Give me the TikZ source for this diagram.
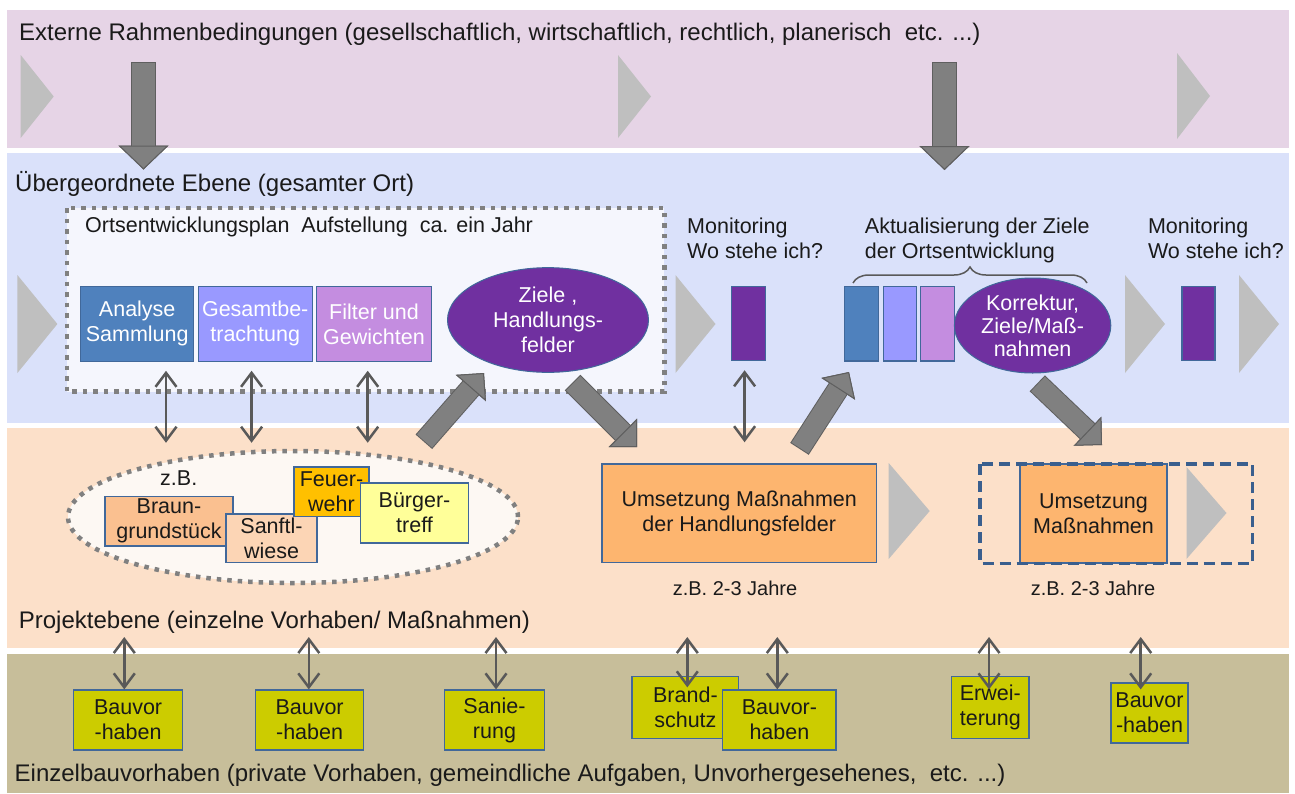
\documentclass[tikz,border=0pt]{standalone}
\usepackage{fontspec}
\setmainfont{Liberation Sans}
\usetikzlibrary{arrows.meta,positioning,calc,shapes.geometric,decorations.pathreplacing}
\definecolor{bandext}{HTML}{E6D4E6}
\definecolor{bandort}{HTML}{DAE1FA}
\definecolor{bandproj}{HTML}{FCE0C9}
\definecolor{bandbau}{HTML}{C7BE9A}
\definecolor{planfill}{HTML}{F5F6FD}
\definecolor{ellfill}{HTML}{FDF8F3}
\definecolor{steel}{HTML}{4F81BD}
\definecolor{peri}{HTML}{9999FF}
\definecolor{lilac}{HTML}{C48DE0}
\definecolor{plum}{HTML}{7030A0}
\definecolor{frame}{HTML}{41689A}
\definecolor{navy}{HTML}{3A5F8E}
\definecolor{peach}{HTML}{FAC090}
\definecolor{peachlight}{HTML}{FCD5B5}
\definecolor{gold}{HTML}{FFC000}
\definecolor{lemon}{HTML}{FFFF99}
\definecolor{apricot}{HTML}{FDB56F}
\definecolor{olive}{HTML}{CCCC00}
\definecolor{chevron}{HTML}{BFBFBF}
\definecolor{blockgray}{HTML}{808080}
\definecolor{blockedge}{HTML}{5F5F5F}
\definecolor{link}{HTML}{595959}
\definecolor{dots}{HTML}{808080}
\definecolor{ink}{HTML}{1A1A1A}

\begin{document}
\begin{tikzpicture}[x=1pt,y=-1pt,
  every node/.style={font=\fontsize{21.5}{25}\selectfont,text=ink},
  title/.style={anchor=base west,inner sep=0,font=\fontsize{24}{28}\selectfont},
  note/.style={anchor=north west,inner sep=0,align=left},
  card/.style={draw=frame,line width=1.2pt,align=center,inner sep=0},
  phase/.style={card,text=white,minimum height=74.5pt},
  bar/.style={draw=frame,line width=1.2pt,minimum width=34pt,minimum height=74.5pt,inner sep=0},
  goal/.style={ellipse,draw=frame,line width=1pt,fill=plum,text=white,align=center,inner sep=0},
  bau/.style={card,fill=olive,minimum height=60pt},
  dotline/.style={draw=dots,line width=4.5pt,dash pattern=on 4.5pt off 6pt},
  dblarrow/.style={draw=link,line width=2.5pt,
    {Straight Barb[length=14pt,width=21pt]}-{Straight Barb[length=14pt,width=21pt]}},
  bigdown/.style={draw=blockgray,line width=23pt,
    -{Triangle[length=24pt,width=50pt,line width=1pt,color=blockedge,fill=blockgray]},
    preaction={draw=blockedge,line width=25pt,shorten <=-1pt,
      -{Triangle[length=24pt,width=50pt,line width=1pt,color=blockedge,fill=blockgray]}}},
  bigslant/.style={draw=blockgray,line width=20pt,
    -{Triangle[length=20pt,width=40pt,line width=1pt,color=blockedge,fill=blockgray]},
    preaction={draw=blockedge,line width=22pt,shorten <=-1pt,
      -{Triangle[length=20pt,width=40pt,line width=1pt,color=blockedge,fill=blockgray]}}}]

  \useasboundingbox (0,0) rectangle (1295,793);
  \fill[white] (0,0) rectangle (1295,793);

  % Ebenen
  \fill[bandext]  (6.5,10)  rectangle (1289,148);
  \fill[bandort]  (6.5,153) rectangle (1289,422.5);
  \fill[bandproj] (6.5,428) rectangle (1289,647.5);
  \fill[bandbau]  (6.5,654) rectangle (1289,793);

  % Zeitpfeile
  \foreach \x/\y/\w/\h in {20.7/96.5/33/41.5, 618/96.5/33/41.5, 1177/96/33/43,
      17.4/324/40/49, 675.5/324/40/49, 1125/324/40/49, 1239/324/40/49,
      888.7/511/41/48, 1186.5/513/40/46}
    \fill[chevron] (\x,\y-\h) -- (\x+\w,\y) -- (\x,\y+\h) -- cycle;

  \node[title] (ttlext) at (19,40)
    {Externe Rahmenbedingungen (gesellschaftlich, wirtschaftlich, rechtlich, planerisch\ \ etc. ...)};
  \node[title] (ttlort) at (15,191) {Übergeordnete Ebene (gesamter Ort)};
  \node[title] (ttlproj) at (18.7,628) {Projektebene (einzelne Vorhaben/ Maßnahmen)};
  \node[title] (ttlbau) at (14.5,781)
    {Einzelbauvorhaben (private Vorhaben, gemeindliche Aufgaben, Unvorhergesehenes,\ \ etc. ...)};

  % Ortsentwicklungsplan
  \draw[dotline,fill=planfill] (67,208) rectangle (664.4,391.7);
  \node[anchor=base west,inner sep=0] (oep) at (85,232)
    {Ortsentwicklungsplan\ \ Aufstellung\ \ ca. ein Jahr};
  \node[phase,fill=steel,minimum width=112.8pt] (ana) at (137.2,323.9) {Analyse\\Sammlung};
  \node[phase,fill=peri,minimum width=114pt,right=3.4pt of ana] (ges) {Gesamtbe-\\trachtung};
  \node[phase,fill=lilac,minimum width=115.6pt,right=2.8pt of ges] (fil) {Filter und\\Gewichten};
  \node[goal,minimum width=201pt,minimum height=104.7pt] (ziele) at (548,320)
    {Ziele ,\\Handlungs-\\felder};

  % Monitoring und Aktualisierung
  \node[note] (mon1) at (687,218) {Monitoring\\Wo stehe ich?};
  \node[bar,fill=plum] (mbar1) at (748.8,323.4) {};
  \node[note] (akt) at (864.7,218) {Aktualisierung der Ziele\\der Ortsentwicklung};
  \node[bar,fill=steel] (stk1) at (861.8,323.7) {};
  \node[bar,fill=peri,minimum width=33pt,right=3.4pt of stk1] (stk2) {};
  \node[bar,fill=lilac,right=3.2pt of stk2] (stk3) {};
  \node[goal,minimum width=156.4pt,minimum height=95pt,font=\fontsize{21.5}{23}\selectfont]
    (korr) at (1032.6,325.5) {Korrektur,\\Ziele/Maß-\\nahmen};
  \node[note] (mon2) at (1147.8,218) {Monitoring\\Wo stehe ich?};
  \node[bar,fill=plum,minimum width=33pt] (mbar2) at (1198.5,323.5) {};
  \draw[link,line width=1.5pt,decorate,decoration={brace,amplitude=16pt}]
    (853,283) -- (1087,283);

  % Projektebene
  \node[ellipse,dotline,fill=ellfill,minimum width=450pt,minimum height=132pt] (bsp) at (293,517) {};
  \node[anchor=base west,inner sep=0] (zb) at (160,485) {z.B.};
  \node[card,fill=peach,minimum width=128pt,minimum height=49.3pt] (braun) at (169,521.3) {Braun-\\grundstück};
  \node[card,fill=peachlight,minimum width=91pt,minimum height=48.7pt] (sanft) at (271.5,538.3) {Sanftl-\\wiese};
  \node[card,fill=gold,minimum width=75pt,minimum height=49.7pt] (feuer) at (331.5,491.8) {Feuer-\\wehr};
  \node[card,fill=lemon,minimum width=107.8pt,minimum height=60pt] (buerger) at (414.5,513) {Bürger-\\treff};

  \node[card,fill=apricot,minimum width=274.4pt,minimum height=98.7pt] (ums1) at (739.2,513.3)
    {Umsetzung Maßnahmen\\der Handlungsfelder};
  \node[anchor=base,font=\fontsize{20}{24}\selectfont] (dauer1) at (735,595) {z.B. 2-3 Jahre};
  \node[card,fill=apricot,minimum width=147pt,minimum height=99pt] (ums2) at (1093.5,513.5)
    {Umsetzung\\Maßnahmen};
  \draw[navy,line width=3.5pt,dash pattern=on 11pt off 6pt] (980,464) rectangle (1252.6,563.3);
  \node[anchor=base,font=\fontsize{20}{24}\selectfont] (dauer2) at (1093,595) {z.B. 2-3 Jahre};

  % Einzelbauvorhaben
  \node[bau,minimum width=108.6pt] (bv1) at (128.1,720) {Bauvor\\-haben};
  \node[bau,minimum width=107.8pt] (bv2) at (309.6,720) {Bauvor\\-haben};
  \node[bau,minimum width=99.4pt] (san) at (494.5,720) {Sanie-\\rung};
  \node[bau,minimum width=106.7pt,minimum height=61.6pt] (brand) at (685.4,707.5) {Brand-\\schutz};
  \node[bau,minimum width=113.2pt] (bv3) at (779.4,720) {Bauvor-\\haben};
  \node[bau,minimum width=77.5pt,minimum height=61.6pt] (erw) at (990.3,707.5) {Erwei-\\terung};
  \node[bau,minimum width=77pt] (bv4) at (1149.5,713) {Bauvor\\-haben};

  % Wechselwirkungen
  \foreach \n/\x in {ana/166,ges/251.6,fil/367.7,mbar1/744.6}
    \draw[dblarrow] ($(\n.south -| \x,0)+(0,9)$) -- ($(\n.south -| \x,0)+(0,81)$);
  \foreach \n/\x/\d in {bv1/124.3/0,bv2/308.8/0,san/496/0,brand/687.3/11.3,
      bv3/777.3/0,erw/989/13.3,bv4/1140.7/7}{
    \coordinate (top\n) at (\x,637);
    \draw[dblarrow] (top\n) -- ($(\n.north -| \x,0)+(0,\d)$);
  }

  % Blockpfeile
  \coordinate (ext1) at (143.5,63);  \coordinate (ort1) at (143.5,169.5);
  \coordinate (ext2) at (944.5,63);  \coordinate (ort2) at (944.5,170);
  \draw[bigdown] (ext1) -- (ort1);
  \draw[bigdown] (ext2) -- (ort2);
  \coordinate (feed1) at (424.5,441); \coordinate (zielin) at (484,373);
  \coordinate (zielout) at (573.3,383.3); \coordinate (umsin) at (637,447);
  \coordinate (feed2) at (800,448); \coordinate (aktin) at (849,372);
  \coordinate (korrout) at (1038,384); \coordinate (ums2in) at (1102,445);
  \draw[bigslant] (feed1) -- (zielin);
  \draw[bigslant] (zielout) -- (umsin);
  \draw[bigslant] (feed2) -- (aktin);
  \draw[bigslant] (korrout) -- (ums2in);
\end{tikzpicture}
\end{document}
